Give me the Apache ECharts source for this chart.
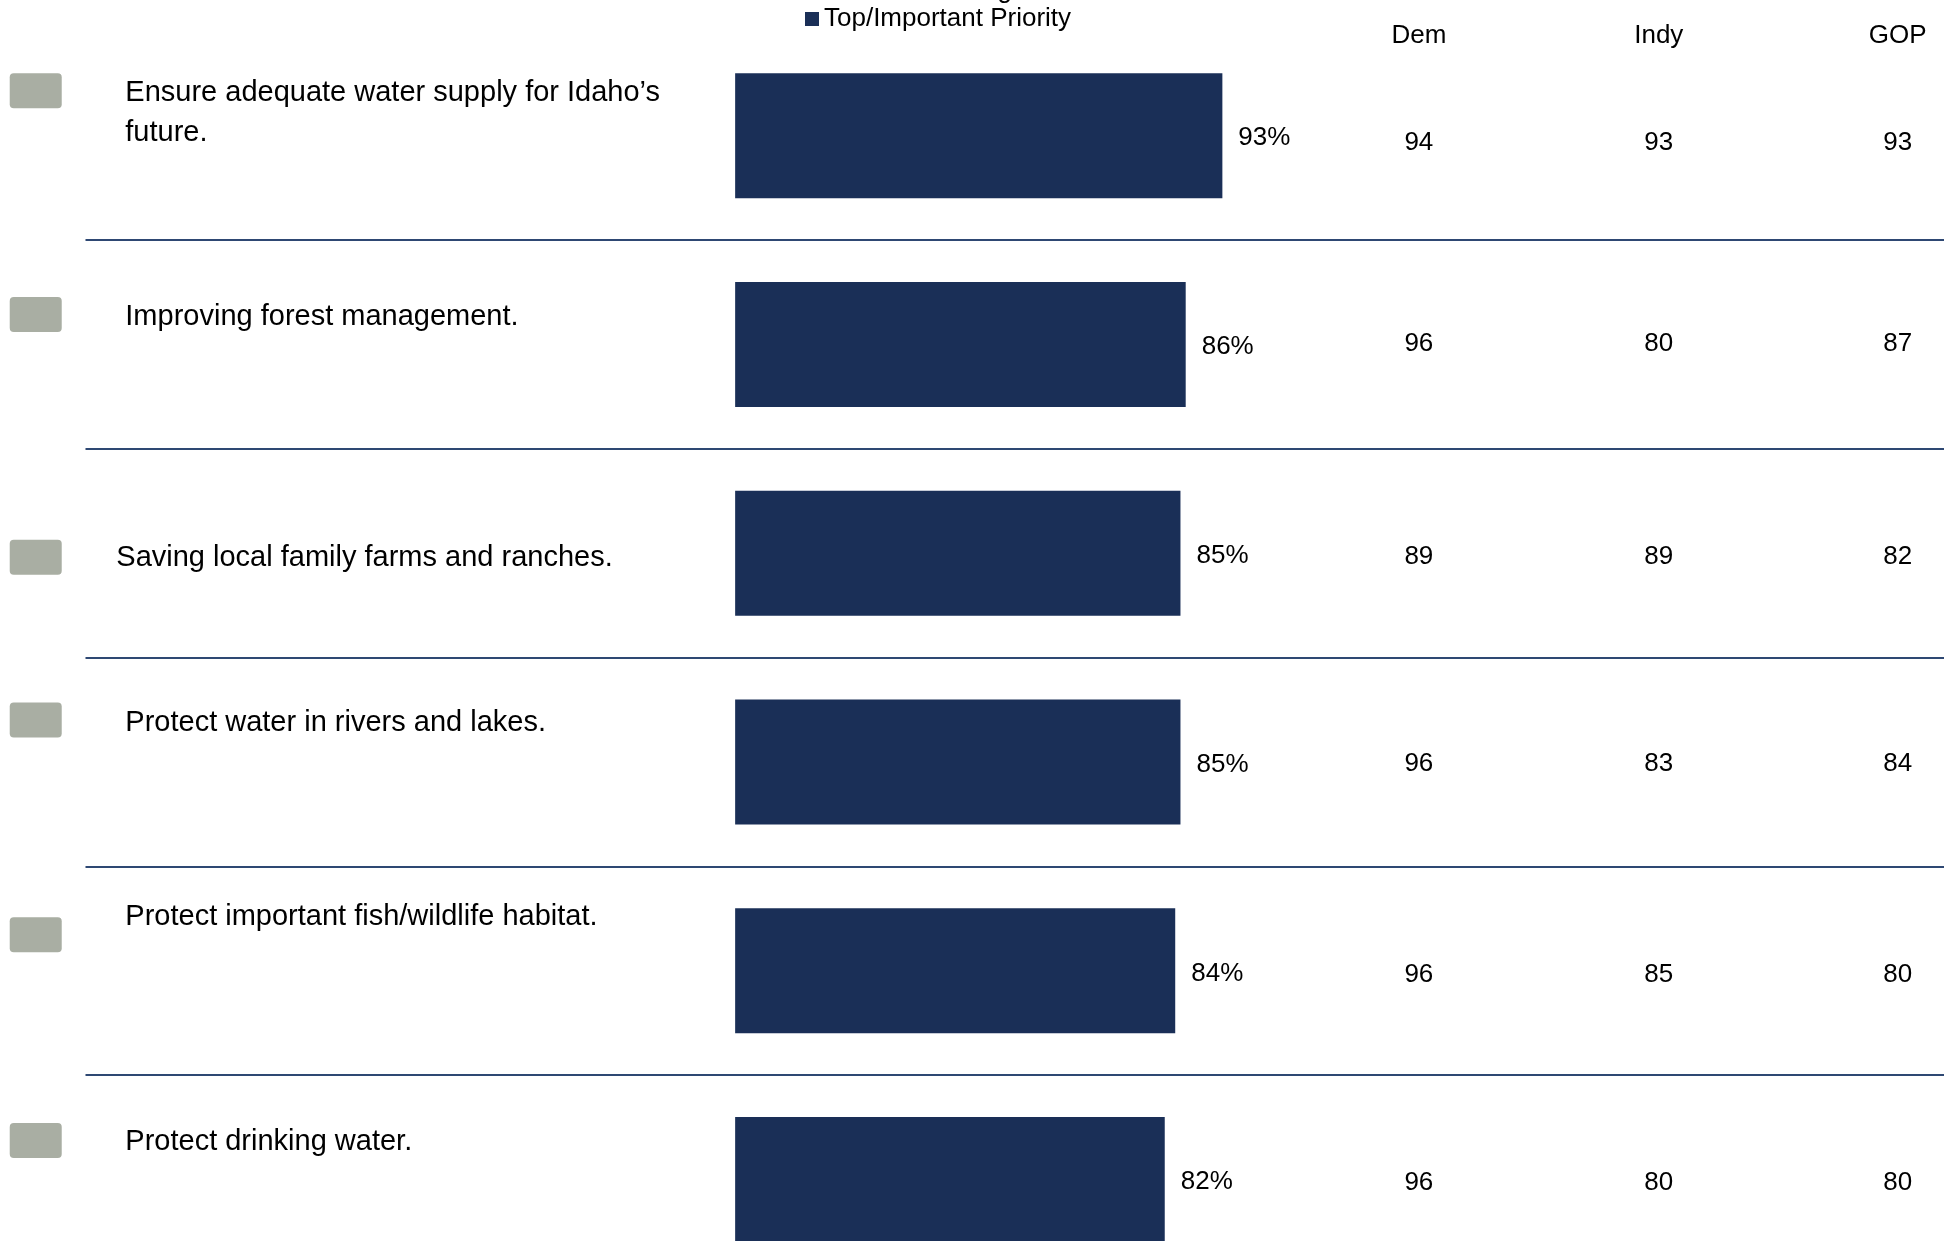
<!DOCTYPE html>
<html>
<head>
<meta charset="utf-8">
<script src="https://cdn.jsdelivr.net/npm/echarts@6/dist/echarts.min.js"></script>
<style>
html,body{margin:0;padding:0;background:#fff;overflow:hidden;}
/* taller than the window: the last row runs off the bottom of the slide */
#chart{width:1944px;height:1284px;}
</style>
</head>
<body>
<div id="chart"></div>
<script>
// statements, top to bottom
const items = [
  'Ensure adequate water supply for Idaho’s\nfuture.',
  'Improving forest management.',
  'Saving local family farms and ranches.',
  'Protect water in rivers and lakes.',
  'Protect important fish/wildlife habitat.',
  'Protect drinking water.'
];
const topPriority = [93, 86, 85, 85, 84, 82];
const partyNames = ['Dem', 'Indy', 'GOP'];
const dem = [94, 96, 89, 96, 96, 96];
const indy = [93, 80, 89, 83, 85, 80];
const gop = [93, 87, 82, 84, 80, 80];

// column positions in value-axis units (0 = where bars start)
const colX = { box: -133.5, text: -116.4, party: [130.5, 176.3, 221.9] };
// slide layout isnt regular, nudge labels per row
const boxShift = [-45, -30, 4, -42, -36, -39];
const textShift = [-22.5, -27.5, 4.5, -39.5, -53.5, -37.5];
const textXShift = [0, 0, -9, 0, 0, 0];
const partyShift = [7.5, -1, 4, 1.5, 4, 3];

const font = "'Liberation Sans', Arial, sans-serif";
const navy = '#1a2f57';
const boxPath = 'path://M4,0 H48 A4,4 0 0 1 52,4 V31 A4,4 0 0 1 48,35 H4 A4,4 0 0 1 0,31 V4 A4,4 0 0 1 4,0 Z';

let chart = echarts.init(document.getElementById('chart'));

let textOnly = { color: 'transparent', opacity: 1 };

let partySeries = [dem, indy, gop].map((arr, k) => ({
  type: 'scatter',
  name: partyNames[k],
  symbolSize: 1,
  itemStyle: textOnly,
  silent: true,
  data: arr.map((v, i) => ({ value: [colX.party[k], i, v], label: { offset: [0, partyShift[i]] } })),
  label: {
    show: true,
    position: 'inside',
    fontSize: 26,
    fontFamily: font,
    color: '#000',
    formatter: p => p.value[2]
  }
}));

let option = {
  animation: false,
  backgroundColor: '#fff',
  legend: {
    data: ['Top/Important Priority'],
    left: 805,
    top: 6,
    padding: 0,
    icon: 'rect',
    itemWidth: 14,
    itemHeight: 14,
    selectedMode: false,
    textStyle: { fontSize: 26, color: '#000', fontFamily: font }
  },
  grid: { left: 85.5, right: 0, top: 31.4, bottom: 0 },
  xAxis: { type: 'value', min: -124, max: 230.74, show: false },
  yAxis: {
    type: 'category',
    data: items,
    inverse: true,
    axisLine: { show: false },
    axisTick: { show: false },
    axisLabel: { show: false },
    splitLine: {
      show: true,
      interval: 0,
      showMinLine: false,
      showMaxLine: false,
      lineStyle: { color: '#2e4873', width: 2 }
    }
  },
  graphic: [{
    // cut off title above the legend, only the descender shows
    type: 'text',
    x: 1012,
    y: 4,
    silent: true,
    style: { text: 'Ranking', font: "26px 'Liberation Sans', Arial", fill: '#000', align: 'right', verticalAlign: 'bottom' }
  }],
  series: [
    {
      type: 'bar',
      name: 'Top/Important Priority',
      data: topPriority,
      barWidth: 125,
      itemStyle: { color: navy },
      label: {
        show: true,
        position: 'right',
        distance: 16,
        offset: [0, 2.5],
        formatter: '{c}%',
        fontSize: 26,
        fontFamily: font,
        color: '#000'
      }
    },
    {
      type: 'scatter',
      name: 'box',
      symbol: boxPath,
      symbolSize: [52, 35],
      symbolKeepAspect: false,
      clip: false,
      silent: true,
      itemStyle: { color: '#a9aea3', opacity: 1 },
      data: items.map((t, i) => ({ value: [colX.box, i], symbolOffset: [0, boxShift[i]] }))
    },
    {
      type: 'scatter',
      name: 'statements',
      symbolSize: 1,
      clip: false,
      silent: true,
      itemStyle: textOnly,
      data: items.map((t, i) => ({
        value: [colX.text, i],
        name: t,
        label: { offset: [textXShift[i], textShift[i]] }
      })),
      label: {
        show: true,
        position: 'inside',
        align: 'left',
        verticalAlign: 'middle',
        fontSize: 29,
        lineHeight: 40,
        fontFamily: font,
        color: '#000',
        formatter: p => p.name
      }
    },
    {
      type: 'scatter',
      name: 'headers',
      symbolSize: 1,
      silent: true,
      itemStyle: textOnly,
      data: partyNames.map((n, k) => ({ value: [colX.party[k], 0], name: n })),
      label: {
        show: true,
        position: 'inside',
        offset: [0, -99.5],
        fontSize: 26,
        fontFamily: font,
        color: '#000',
        formatter: p => p.name
      }
    }
  ].concat(partySeries)
};

chart.setOption(option);
</script>
</body>
</html>
